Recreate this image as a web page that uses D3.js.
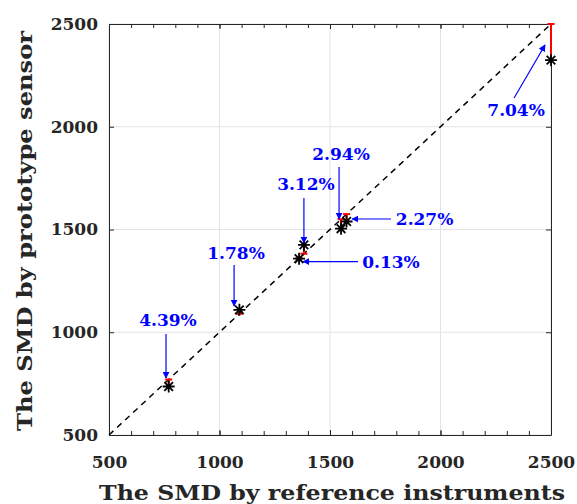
<!DOCTYPE html>
<html>
<head>
<meta charset="utf-8">
<script src="https://cdn.jsdelivr.net/npm/d3@7"></script>
<style>
  body { margin: 0; background: #fff; }
  text { font-family: "DejaVu Serif", serif; font-weight: bold; }
</style>
</head>
<body>
<script>
var width = 577, height = 504;

// reference values vs. prototype readings
var refVals    = [770, 1090, 1360, 1382, 1550, 1575, 2500];
var sensorVals = [736, 1109, 1358, 1425, 1504, 1539, 2324];

var majorTicks = [500, 1000, 1500, 2000, 2500];
var minorTicks = d3.range(500, 2501, 100);

// annotations in data units: label, text centre, arrow tail, arrow head
var annLabels = ["4.39%", "1.78%", "3.12%", "2.94%", "2.27%", "0.13%", "7.04%"];
var annText   = [[767, 1060], [1075, 1386], [1391, 1721], [1550, 1867], [1928, 1551], [1776, 1342], [2342, 2081]];
var annFrom   = [[758, 991], [1066, 1327], [1382, 1653], [1541, 1804], [1776, 1551], [1627, 1344], [2333, 2140]];
var annTo     = [[758, 777], [1066, 1128], [1382, 1434], [1541, 1551], [1600, 1551], [1378, 1344], [2473, 2398]];

var m = {left: 109, right: 26, top: 24, bottom: 69};

var svg = d3.select("body").append("svg")
    .attr("width", width)
    .attr("height", height);

var x = d3.scaleLinear().domain([500, 2500]).range([m.left, width - m.right]);
var y = d3.scaleLinear().domain([500, 2500]).range([height - m.bottom, m.top]);

var defs = svg.append("defs");
defs.append("marker")
    .attr("id", "arr")
    .attr("viewBox", "0 0 10 10")
    .attr("refX", 9).attr("refY", 5)
    .attr("markerWidth", 7).attr("markerHeight", 7)
    .attr("markerUnits", "userSpaceOnUse")
    .attr("orient", "auto")
  .append("path")
    .attr("d", "M0,0 L10,5 L0,10 Z")
    .attr("fill", "#0000ff");

// grid
svg.append("g").selectAll("line").data(majorTicks).enter().append("line")
    .attr("x1", d => x(d)).attr("x2", d => x(d))
    .attr("y1", y(500)).attr("y2", y(2500))
    .attr("stroke", "#e3e3e3");
svg.append("g").selectAll("line").data(majorTicks).enter().append("line")
    .attr("x1", x(500)).attr("x2", x(2500))
    .attr("y1", d => y(d)).attr("y2", d => y(d))
    .attr("stroke", "#e3e3e3");

// axes (ticks pointing inward)
var ax = "#262626";
function styleAxis(g) {
  g.select(".domain").attr("stroke", ax);
  g.selectAll(".tick line").attr("stroke", ax);
  g.selectAll("text").attr("fill", ax).style("font-size", "17px");
}

var bottomMinor = svg.append("g")
    .attr("transform", "translate(0," + y(500) + ")")
    .call(d3.axisBottom(x).tickValues(minorTicks).tickSize(-4).tickFormat(""));
bottomMinor.select(".domain").remove();
bottomMinor.selectAll(".tick line").attr("stroke", ax);
var topMinor = svg.append("g")
    .attr("transform", "translate(0," + y(2500) + ")")
    .call(d3.axisTop(x).tickValues(minorTicks).tickSize(-4).tickFormat(""));
topMinor.select(".domain").remove();
topMinor.selectAll(".tick line").attr("stroke", ax);

svg.append("g")
    .attr("transform", "translate(0," + y(500) + ")")
    .call(d3.axisBottom(x).tickValues(majorTicks).tickSize(-5).tickSizeOuter(0).tickPadding(21).tickFormat(d3.format("d")))
    .call(styleAxis);
svg.append("g")
    .attr("transform", "translate(0," + y(2500) + ")")
    .call(d3.axisTop(x).tickValues(majorTicks).tickSize(-5).tickSizeOuter(0).tickFormat(""))
    .call(styleAxis);
svg.append("g")
    .attr("transform", "translate(" + x(500) + ",0)")
    .call(d3.axisLeft(y).tickValues(majorTicks).tickSize(-5).tickSizeOuter(0).tickPadding(11).tickFormat(d3.format("d")))
    .call(styleAxis);
svg.append("g")
    .attr("transform", "translate(" + x(2500) + ",0)")
    .call(d3.axisRight(y).tickValues(majorTicks).tickSize(-5).tickSizeOuter(0).tickFormat(""))
    .call(styleAxis);

// y = x reference line
svg.append("line")
    .attr("x1", x(500)).attr("y1", y(500))
    .attr("x2", x(2500)).attr("y2", y(2500))
    .attr("stroke", "#000")
    .attr("stroke-width", 1.5)
    .attr("stroke-dasharray", "6,5");

var pts = refVals.map((d, i) => ({ref: d, val: sensorVals[i]}));

// error bars
var eb = svg.append("g").selectAll("g").data(pts).enter().append("g")
    .attr("stroke", "#ff0000").attr("stroke-width", 2);
eb.append("line")
    .attr("x1", d => x(d.ref)).attr("x2", d => x(d.ref))
    .attr("y1", d => y(d.val)).attr("y2", d => y(d.ref));
eb.append("line")
    .attr("x1", d => x(d.ref) - 3.5).attr("x2", d => x(d.ref) + 3.5)
    .attr("y1", d => y(d.ref)).attr("y2", d => y(d.ref));

// asterisk markers
var r = 6, k = r * 0.72;
svg.append("g").selectAll("path").data(pts).enter().append("path")
    .attr("d", function(d) {
      var cx = x(d.ref), cy = y(d.val);
      return "M" + (cx - r) + "," + cy + "H" + (cx + r) +
             "M" + cx + "," + (cy - r) + "V" + (cy + r) +
             "M" + (cx - k) + "," + (cy - k) + "L" + (cx + k) + "," + (cy + k) +
             "M" + (cx - k) + "," + (cy + k) + "L" + (cx + k) + "," + (cy - k);
    })
    .attr("stroke", "#000")
    .attr("stroke-width", 1.8)
    .attr("fill", "none");

// annotations
var ann = svg.append("g");
ann.selectAll("line").data(annLabels).enter().append("line")
    .attr("x1", (d, i) => x(annFrom[i][0])).attr("y1", (d, i) => y(annFrom[i][1]))
    .attr("x2", (d, i) => x(annTo[i][0])).attr("y2", (d, i) => y(annTo[i][1]))
    .attr("stroke", "#0000ff")
    .attr("stroke-width", 1.2)
    .attr("marker-end", "url(#arr)");
ann.selectAll("text").data(annLabels).enter().append("text")
    .attr("x", (d, i) => x(annText[i][0]))
    .attr("y", (d, i) => y(annText[i][1]))
    .attr("text-anchor", "middle")
    .attr("dominant-baseline", "central")
    .attr("fill", "#0000ff")
    .style("font-size", "17px")
    .text(d => d);

// axis titles
svg.append("text")
    .attr("x", 332)
    .attr("y", 500)
    .attr("text-anchor", "middle")
    .attr("fill", ax)
    .attr("textLength", 466)
    .attr("lengthAdjust", "spacingAndGlyphs")
    .style("font-size", "21px")
    .text("The SMD by reference instruments");
svg.append("text")
    .attr("transform", "translate(32,231) rotate(-90)")
    .attr("text-anchor", "middle")
    .attr("fill", ax)
    .attr("textLength", 400)
    .attr("lengthAdjust", "spacingAndGlyphs")
    .style("font-size", "21px")
    .text("The SMD by prototype sensor");
</script>
</body>
</html>
